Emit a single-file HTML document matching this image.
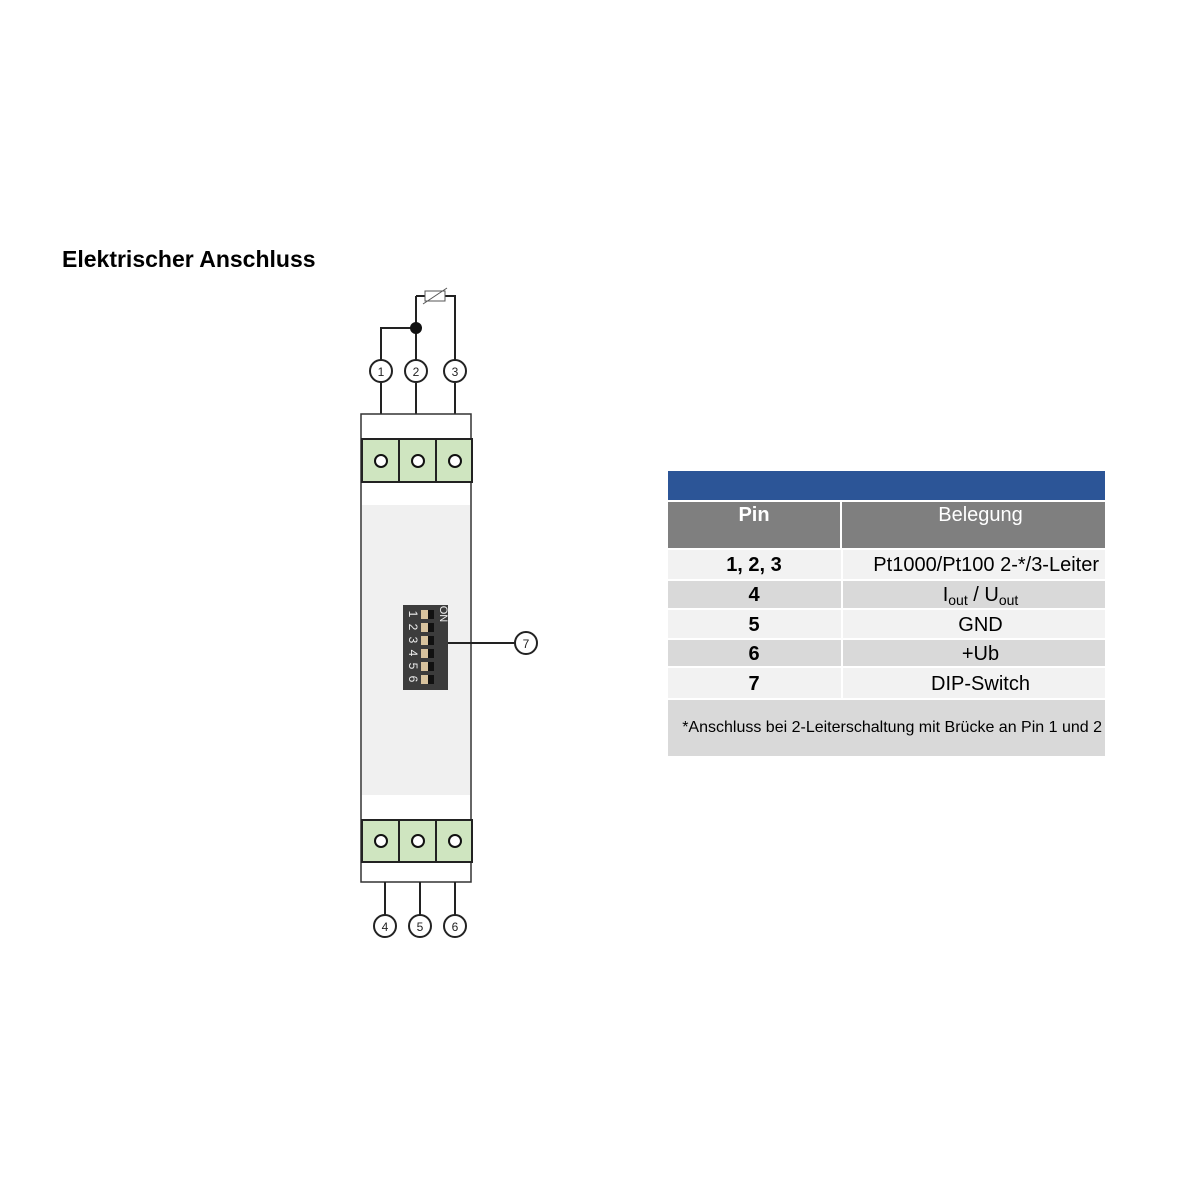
<!DOCTYPE html>
<html><head><meta charset="utf-8"><style>
body{margin:0;width:1200px;height:1200px;background:#fff;position:relative;font-family:"Liberation Sans",Arial,sans-serif;overflow:hidden}
.a{position:absolute}
.r{position:absolute;left:668px;width:437px;display:flex;font-size:20px;color:#000}
.r div{display:flex;align-items:center;justify-content:center;padding-top:2px}
.c1{width:172px;font-weight:bold}
.c2{width:263px;margin-left:2px}
.p{padding-left:14px;box-sizing:border-box}
sub{font-size:14px;position:relative;top:4px;vertical-align:baseline}
</style></head><body>
<div class="a" style="left:62px;top:246px;font-size:23px;font-weight:bold">Elektrischer Anschluss</div>
<svg class="a" style="left:0;top:0" width="1200" height="1200">
<g fill="none" stroke="#222" stroke-width="2">
<polyline points="381,360 381,328 416,328"/>
<line x1="416" y1="360" x2="416" y2="296"/>
<polyline points="416,296 425,296"/><polyline points="445,296 455,296 455,360"/>
<rect x="425" y="291" width="20" height="10" stroke-width="1" stroke="#555"/>
<line x1="423" y1="304" x2="447" y2="288" stroke-width="1" stroke="#555"/>
<line x1="381" y1="383" x2="381" y2="415"/><line x1="416" y1="383" x2="416" y2="415"/><line x1="455" y1="383" x2="455" y2="415"/>
<circle cx="381" cy="371" r="11" fill="#fff"/><circle cx="416" cy="371" r="11" fill="#fff"/><circle cx="455" cy="371" r="11" fill="#fff"/>
</g>
<circle cx="416" cy="328" r="6" fill="#111"/>
<rect x="361" y="414" width="110" height="468" fill="#fff" stroke="#333" stroke-width="1.5"/>
<rect x="362" y="505" width="108" height="290" fill="#f0f0f0"/>
<g stroke="#222" stroke-width="2" fill="#cfe5c0">
<rect x="362" y="439" width="110" height="43"/><line x1="399" y1="439" x2="399" y2="482"/><line x1="436" y1="439" x2="436" y2="482"/>
<rect x="362" y="820" width="110" height="42"/><line x1="399" y1="820" x2="399" y2="862"/><line x1="436" y1="820" x2="436" y2="862"/>
</g>
<g fill="#fff" stroke="#111" stroke-width="2">
<circle cx="381" cy="461" r="6"/><circle cx="418" cy="461" r="6"/><circle cx="455" cy="461" r="6"/>
<circle cx="381" cy="841" r="6"/><circle cx="418" cy="841" r="6"/><circle cx="455" cy="841" r="6"/>
</g>
<g fill="none" stroke="#222" stroke-width="2">
<line x1="385" y1="882" x2="385" y2="915"/><line x1="420" y1="882" x2="420" y2="915"/><line x1="455" y1="882" x2="455" y2="915"/>
<circle cx="385" cy="926" r="11" fill="#fff"/><circle cx="420" cy="926" r="11" fill="#fff"/><circle cx="455" cy="926" r="11" fill="#fff"/>
<line x1="448" y1="643" x2="515" y2="643"/>
<circle cx="526" cy="643" r="11" fill="#fff"/>
</g>
<g font-size="12" text-anchor="middle" fill="#222">
<text x="381" y="376">1</text><text x="416" y="376">2</text><text x="455" y="376">3</text>
<text x="385" y="931">4</text><text x="420" y="931">5</text><text x="455" y="931">6</text>
<text x="526" y="648">7</text>
</g>
<rect x="403" y="605" width="45" height="85" fill="#3c3c3c"/>
<g fill="#d8c39e">
<rect x="421" y="610" width="7" height="9"/><rect x="421" y="623" width="7" height="9"/><rect x="421" y="636" width="7" height="9"/><rect x="421" y="649" width="7" height="9"/><rect x="421" y="662" width="7" height="9"/><rect x="421" y="675" width="7" height="9"/>
</g>
<g fill="#111"><rect x="428" y="610" width="6" height="9"/><rect x="428" y="623" width="6" height="9"/><rect x="428" y="636" width="6" height="9"/><rect x="428" y="649" width="6" height="9"/><rect x="428" y="662" width="6" height="9"/><rect x="428" y="675" width="6" height="9"/></g>
<g fill="#eee" font-size="12" text-anchor="middle">
<text transform="translate(409,614) rotate(90)">1</text><text transform="translate(409,627) rotate(90)">2</text><text transform="translate(409,640) rotate(90)">3</text><text transform="translate(409,653) rotate(90)">4</text><text transform="translate(409,666) rotate(90)">5</text><text transform="translate(409,679) rotate(90)">6</text>
<text transform="translate(440,614) rotate(90)" font-size="11">ON</text>
</g>
</svg>
<div class="a" style="left:668px;top:471px;width:437px;height:29px;background:#2c5597"></div>
<div class="r" style="top:502px;height:46px;color:#fff;font-size:20px;background:#7f7f7f">
<div class="c1" style="align-items:flex-start;padding-top:2px">Pin</div><div style="width:2px;background:#fff;padding:0"></div><div class="c2 p" style="margin-left:0;align-items:flex-start;padding-top:2px">Belegung</div></div>
<div class="r" style="top:550px;height:29px;background:#f2f2f2"><div class="c1">1, 2, 3</div><div class="c2" style="justify-content:flex-end;padding-right:6px;width:257px">Pt1000/Pt100 2-*/3-Leiter</div></div>
<div class="r" style="top:581px;height:27px;background:#d9d9d9"><div class="c1">4</div><div class="c2 p">I<sub>out</sub>&nbsp;/ U<sub>out</sub></div></div>
<div class="r" style="top:610px;height:28px;background:#f2f2f2"><div class="c1">5</div><div class="c2 p">GND</div></div>
<div class="r" style="top:640px;height:26px;background:#d9d9d9"><div class="c1">6</div><div class="c2 p">+Ub</div></div>
<div class="r" style="top:668px;height:30px;background:#f2f2f2"><div class="c1">7</div><div class="c2 p">DIP-Switch</div></div>
<div class="a" style="left:841px;top:550px;width:2px;height:148px;background:#fff"></div>
<div class="a" style="left:668px;top:700px;width:437px;height:56px;background:#d9d9d9;font-size:16px;display:flex;align-items:center;justify-content:flex-end;padding-right:3px;box-sizing:border-box">*Anschluss bei 2-Leiterschaltung mit Brücke an Pin 1 und 2</div>
</body></html>
